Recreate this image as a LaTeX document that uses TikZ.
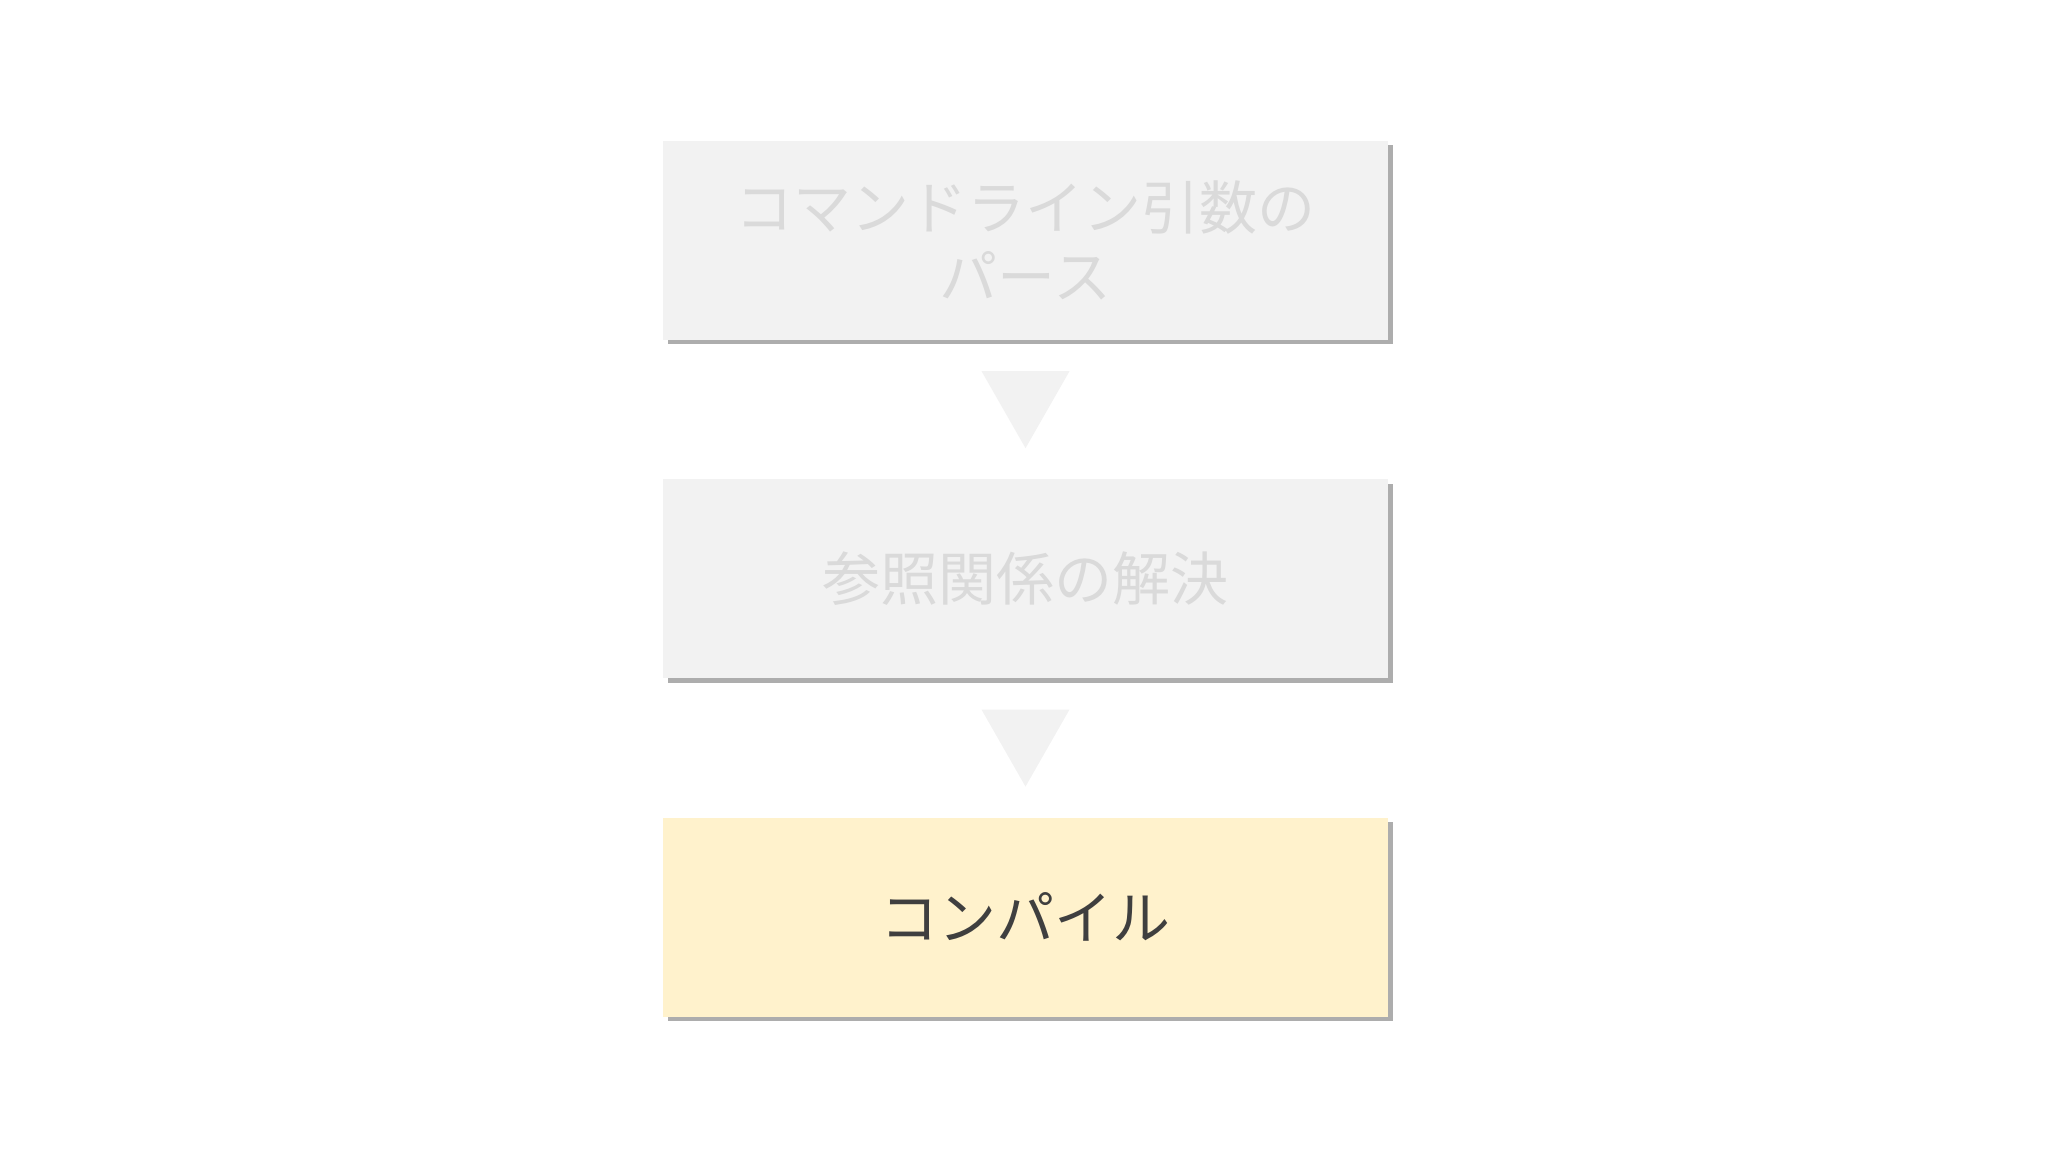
\documentclass[tikz,border=0pt]{standalone}
\usepackage{fontspec, xcolor, tikz}
\usetikzlibrary{positioning, shadows, calc}
\newfontfamily\jpfont{Noto Sans CJK JP}
\definecolor{paleGray}{HTML}{F2F2F2}
\definecolor{paleText}{HTML}{DADADA}
\definecolor{paleYellow}{HTML}{FFF2CC}
\definecolor{darkText}{HTML}{3F3F3F}
\tikzset{
stage/.style={fill=paleGray, text=paleText, minimum width=7.25cm, minimum height=1.99cm,
    align=center, inner sep=0pt,
    font=\jpfont\fontsize{16.5}{19.5}\selectfont,
    drop shadow={shadow xshift=0.045cm, shadow yshift=-0.045cm, fill=black!40, opacity=0.8}},
current/.style={fill=paleYellow, text=darkText},
downtri/.style={fill=paleGray},
}

\begin{document}
\begin{tikzpicture}
    \useasboundingbox (0,0) rectangle (20.48,11.52);
        \node[stage] (s1) at (10.255,9.115) {コマンドライン引数の\\パース};
        \node[stage, below=1.38cm of s1] (s2) {参照関係の解決};
        \node[stage, current, below=1.38cm of s2] (s3) {コンパイル};
        \coordinate (m1) at ($(s1.south)!0.5!(s2.north)$);
        \coordinate (m2) at ($(s2.south)!0.5!(s3.north)$);
        \foreach \m in {m1, m2}
            \fill[downtri] ($(\m)+(-0.44,0.385)$) -- ++(0.88,0) -- ($(\m)+(0,-0.385)$) -- cycle;
    \end{tikzpicture}
\end{document}
